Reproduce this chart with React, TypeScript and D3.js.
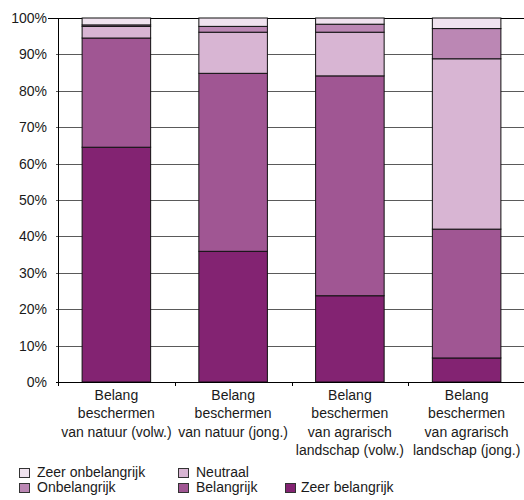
import React, { useMemo } from 'react';
import * as d3 from 'd3';

// categories (x axis), each label split into lines
const categories = ['natuur-volw', 'natuur-jong', 'agrarisch-volw', 'agrarisch-jong'];
const categoryLabels = [
  ['Belang', 'beschermen', 'van natuur (volw.)'],
  ['Belang', 'beschermen', 'van natuur (jong.)'],
  ['Belang', 'beschermen', 'van agrarisch', 'landschap (volw.)'],
  ['Belang', 'beschermen', 'van agrarisch', 'landschap (jong.)'],
];

// series values in percent, stacked bottom -> top
const zeerBelangrijk = [64.5, 35.9, 23.7, 6.6];
const belangrijk = [30.0, 48.9, 60.4, 35.4];
const neutraal = [3.2, 11.3, 12.0, 46.8];
const onbelangrijk = [0.4, 1.6, 2.2, 8.3];
const zeerOnbelangrijk = [1.9, 2.3, 1.7, 2.9];

const seriesKeys = ['Zeer belangrijk', 'Belangrijk', 'Neutraal', 'Onbelangrijk', 'Zeer onbelangrijk'];
const seriesColors: Record<string, string> = {
  'Zeer belangrijk': '#832372',
  'Belangrijk': '#A05693',
  'Neutraal': '#D8B5D3',
  'Onbelangrijk': '#BB87B4',
  'Zeer onbelangrijk': '#F0E3EF',
};

const yTicks = [0, 10, 20, 30, 40, 50, 60, 70, 80, 90, 100];

// legend rows as in the original
const legendRows = [
  ['Zeer onbelangrijk', 'Neutraal'],
  ['Onbelangrijk', 'Belangrijk', 'Zeer belangrijk'],
];
const legendColX = [19, 178, 285];

const App: React.FC = () => {
  const width = 524;
  const height = 500;
  const left = 58;
  const right = 525;
  const top = 18;
  const bottom = 382;
  const font = '"Liberation Sans", Arial, sans-serif';

  const rows = useMemo(
    () =>
      categories.map((c, i) => ({
        cat: c,
        'Zeer belangrijk': zeerBelangrijk[i],
        'Belangrijk': belangrijk[i],
        'Neutraal': neutraal[i],
        'Onbelangrijk': onbelangrijk[i],
        'Zeer onbelangrijk': zeerOnbelangrijk[i],
      })),
    []
  );

  const stacked = useMemo(() => d3.stack<any>().keys(seriesKeys)(rows), [rows]);

  const x = d3.scaleBand<string>().domain(categories).range([left, right]).paddingInner(0.413).paddingOuter(0.2065);
  const y = d3.scaleLinear().domain([0, 100]).range([bottom, top]);
  const step = x.step();

  return (
    <svg
      width={width}
      height={height}
      viewBox={`0 0 ${width} ${height}`}
      style={{ position: 'absolute', left: 0, top: 0, background: '#fff' }}
      fontFamily={font}
    >
      {/* gridlines */}
      {yTicks.filter(t => t > 0 && t < 100).map(t => (
        <line key={`g-${t}`} x1={left - 2} x2={right} y1={Math.round(y(t)) + 0.5} y2={Math.round(y(t)) + 0.5} stroke="#5a5a5a" strokeWidth={1} />
      ))}
      <line x1={left - 10} x2={right} y1={Math.round(y(100)) + 0.5} y2={Math.round(y(100)) + 0.5} stroke="#000" strokeWidth={1} />

      {/* bars */}
      {stacked.map(s => (
        <g key={s.key} fill={seriesColors[s.key]}>
          {s.map((d, i) => (
            <rect
              key={i}
              x={x(categories[i])!}
              width={x.bandwidth()}
              y={y(d[1])}
              height={Math.max(0, y(d[0]) - y(d[1]))}
              stroke="#111"
              strokeWidth={1}
            />
          ))}
        </g>
      ))}

      {/* axes */}
      <line x1={left + 0.5} x2={left + 0.5} y1={top} y2={bottom + 4} stroke="#000" strokeWidth={1} />
      <line x1={left - 2} x2={right} y1={bottom + 0.5} y2={bottom + 0.5} stroke="#000" strokeWidth={1} />
      {categories.map((c, i) => (
        <line key={`xt-${c}`} x1={Math.round(left + i * step) + 0.5} x2={Math.round(left + i * step) + 0.5} y1={bottom} y2={bottom + 4} stroke="#000" strokeWidth={1} />
      ))}

      {yTicks.map(t => (
        <text key={`yl-${t}`} x={47} y={y(t) + 5} textAnchor="end" fontSize={14} fill="#1a1a1a">
          {t}%
        </text>
      ))}

      {categoryLabels.map((lines, i) => (
        <text key={`xl-${i}`} textAnchor="middle" fontSize={14} fill="#1a1a1a">
          {lines.map((ln, j) => (
            <tspan key={j} x={x(categories[i])! + x.bandwidth() / 2} y={400 + j * 18.3}>
              {ln}
            </tspan>
          ))}
        </text>
      ))}

      {/* legend */}
      {legendRows.map((row, r) =>
        row.map((name, c) => (
          <g key={name} transform={`translate(${legendColX[c]},${477 + r * 15})`}>
            <rect x={0.5} y={-8.5} width={10} height={9} fill={seriesColors[name]} stroke="#333" strokeWidth={1} />
            <text x={legendColX[c] === 285 ? 16 : 18} y={0} fontSize={14} fill="#1a1a1a">
              {name}
            </text>
          </g>
        ))
      )}
    </svg>
  );
};

export default App;
